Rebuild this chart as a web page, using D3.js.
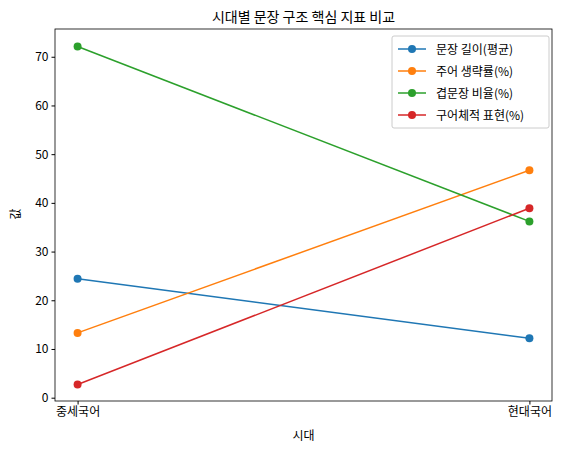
<!DOCTYPE html><html><head><meta charset="utf-8"><script src="https://cdn.jsdelivr.net/npm/d3@7"></script>
<style>body{margin:0;background:#fff}text{font-family:"Noto Sans CJK KR";}</style></head><body><svg id="c" width="563" height="454"></svg><script>
const categories=["중세국어","현대국어"];
const seriesNames=["문장 길이(평균)","주어 생략률(%)","겹문장 비율(%)","구어체적 표현(%)"];
const colors=["#1f77b4","#ff7f0e","#2ca02c","#d62728"];
const values=[[24.4,12.2],[13.3,46.7],[72.1,36.2],[2.7,38.9]];
const yTicks=[0,10,20,30,40,50,60,70];
const svg=d3.select("#c");
const L=55,R=552,T=29,B=401;
const xr=d3.scaleLinear().domain([-0.05,1.05]).range([L,R]);
const y=d3.scaleLinear().domain([-0.68,75.7]).range([B,T]);
const gx=svg.append("g").attr("transform",`translate(0,${B})`).call(d3.axisBottom(xr).tickValues([0,1]).tickFormat(i=>categories[i]).tickSizeOuter(0).tickSize(3.5));
const gy=svg.append("g").attr("transform",`translate(${L},0)`).call(d3.axisLeft(y).tickValues(yTicks).tickSizeOuter(0).tickSize(3.5));
[gx,gy].forEach(g=>{g.select(".domain").remove();g.selectAll("text").attr("font-size",12).attr("fill","#000");g.selectAll("line").attr("stroke","#000");});
svg.append("rect").attr("x",L).attr("y",T).attr("width",R-L).attr("height",B-T).attr("fill","none").attr("stroke","#000").attr("stroke-width",0.8);
values.forEach((v,i)=>{
 svg.append("path").attr("d",d3.line().x((d,j)=>xr(j)).y(d=>y(d))(v)).attr("fill","none").attr("stroke",colors[i]).attr("stroke-width",1.5);
 v.forEach((d,j)=>svg.append("circle").attr("cx",xr(j)).attr("cy",y(d)).attr("r",4).attr("fill",colors[i]));
});
svg.append("text").attr("x",(L+R)/2).attr("y",22).attr("text-anchor","middle").attr("font-size",14).text("시대별 문장 구조 핵심 지표 비교");
svg.append("text").attr("x",(L+R)/2).attr("y",440).attr("text-anchor","middle").attr("font-size",12).text("시대");
svg.append("text").attr("transform","translate(20,214) rotate(-90)").attr("text-anchor","middle").attr("font-size",12).text("값");
const lg=svg.append("g").attr("transform","translate(392,36)");
lg.append("rect").attr("width",157).attr("height",92).attr("rx",2).attr("fill","#fff").attr("stroke","#ccc");
seriesNames.forEach((n,i)=>{const yy=13+i*22;
 lg.append("line").attr("x1",6).attr("x2",34).attr("y1",yy).attr("y2",yy).attr("stroke",colors[i]).attr("stroke-width",1.5);
 lg.append("circle").attr("cx",20).attr("cy",yy).attr("r",4).attr("fill",colors[i]);
 lg.append("text").attr("x",44).attr("y",yy+4.5).attr("font-size",12).text(n);});
</script></body></html>
